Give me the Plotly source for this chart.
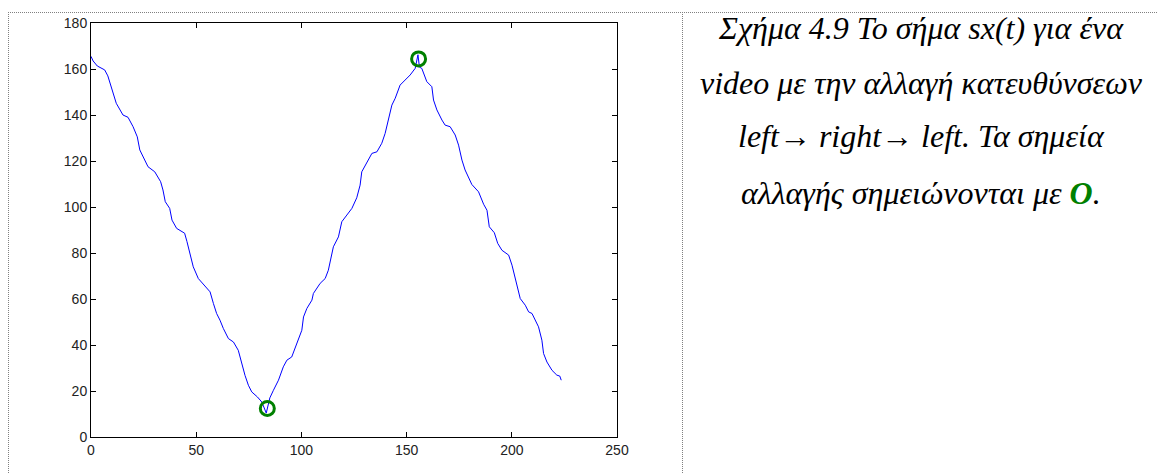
import plotly.graph_objects as go

# ---- data ----
t_values = [0, 1, 3, 6.5, 8, 9.7, 12, 15.2, 17.6, 20, 22, 23.2, 25.5, 27.1, 30.3, 33.1, 34.2, 35.3,
            37.4, 38.5, 40.7, 44.5, 45.6, 47.1, 48.6, 51, 54.2, 56.6, 58.2, 59.7, 61.3, 62.9, 65.3,
            67.7, 70, 71.6, 73.2, 74.8, 76.4, 79.1, 81.2, 83.3,
            85, 86.7, 89.1, 91.4, 93.1, 95.4, 97.8, 100.2, 101, 102.6, 105, 105.7, 108.9, 111.3,
            112.8, 114.4, 115.2, 117.6, 119.2, 121.6, 124, 126.3, 127.9, 128.7, 131.1, 133.5, 135.9,
            138.2, 139.8, 141.4, 143, 144.6, 146.9, 149.3, 151.7, 154.1, 155.4, 156.1,
            157.2, 159.6, 162, 162.8, 164.4, 166.8, 168.3, 170.7, 173.1, 174.7, 176.3, 177.8, 179.4,
            181, 184.2, 186.6, 188.2, 189.3, 191.7, 193.3, 195.3, 198.5, 200.1, 201.6, 203.2, 204,
            206.4, 208, 209.6, 211.1, 212.7, 214.3, 215.1, 216.7, 219.1, 221.4, 222.8, 223.5]
sx_values = [165.5, 163.5, 161.3, 159.6, 157, 152.3, 145.1, 140, 139, 134.9, 130.5, 124.8, 120.4,
             117.5, 115.3, 111, 107.4, 102.3, 99.4, 94.3, 90.7, 88.6, 85, 79.8, 74, 68.9, 65.3, 63.1,
             58, 53.7, 50.8, 47.2, 42.8, 41.3, 37.7, 31.9, 26.8, 22.5, 19.6, 17.4, 15.2, 10.4,
             17, 20.3, 24.7, 30.5, 33.4, 34.8, 40.6, 46.4, 52.2, 55.9, 59.5, 62.4, 66.8, 68.9,
             72.5, 79.8, 82.7, 87, 93.6, 96.5, 99.4, 104, 109.5, 115.3, 119, 123.3, 124,
             127.7, 132, 138.6, 144.3, 147.3, 153, 155.2, 157.4, 160.3, 166.2, 160.8,
             160.3, 154.5, 152.3, 146.5, 142.2, 137.8, 135.6, 134.9, 131.3, 126.9, 120.4, 116.1, 113.1,
             109.8, 106.6, 101.2, 98.6, 91.4, 88.8, 84.2, 81.2, 79.1, 74.7, 68.9, 63.8, 60.2,
             57.3, 54.4, 53.7, 50.8, 47.9, 42.1, 36.3, 32.6, 29, 26.9, 26.5, 24.7]

change_t = [83.8, 155.7]
change_sx = [12.4, 164.4]

x_ticks = [0, 50, 100, 150, 200, 250]
y_ticks = [0, 20, 40, 60, 80, 100, 120, 140, 160, 180]

caption_lines = [
    "Σχήμα 4.9 Το σήμα sx(t) για ένα",
    "video με την αλλαγή κατευθύνσεων",
    "left→ right→ left. Τα σημεία",
    "αλλαγής σημειώνονται με <b><span style='color:#008000'>O</span></b>.",
]

# ---- layout geometry (pixels) ----
W, H = 1158, 473
L, R, T, B = 91, 617, 23, 437
pw, ph = R - L, B - T


def px_x(x):
    return (x - L) / pw


def px_y(y):
    return (B - y) / ph


fig = go.Figure()
fig.add_trace(go.Scatter(x=t_values, y=sx_values, mode="lines",
                         line=dict(color="#0000ff", width=1), hoverinfo="skip"))
fig.add_trace(go.Scatter(x=change_t, y=change_sx, mode="markers",
                         marker=dict(symbol="circle-open", size=14, color="#008000",
                                     line=dict(width=3, color="#008000")),
                         hoverinfo="skip"))

axis_common = dict(showgrid=False, zeroline=False, showline=True, linecolor="black",
                   linewidth=1, mirror="ticks", ticks="inside", ticklen=5, tickcolor="black",
                   tickfont=dict(family="Liberation Sans", size=14, color="#222222"))

fig.update_xaxes(range=[0, 250], tickvals=x_ticks, ticktext=[str(v) for v in x_ticks], **axis_common)
fig.update_yaxes(range=[0, 180], tickvals=y_ticks, ticktext=[str(v) for v in y_ticks], **axis_common)

# dotted frame lines
dot = dict(color="#808080", width=1, dash="1px,1px")
shapes = [
    dict(type="line", xref="paper", yref="paper", x0=px_x(8), x1=px_x(W), y0=px_y(12.5), y1=px_y(12.5), line=dot),
    dict(type="line", xref="paper", yref="paper", x0=px_x(8.5), x1=px_x(8.5), y0=px_y(12), y1=px_y(H), line=dot),
    dict(type="line", xref="paper", yref="paper", x0=px_x(682.5), x1=px_x(682.5), y0=px_y(12), y1=px_y(H), line=dot),
]

annotations = []
line_centers = [28, 83, 136, 193]
for txt, yc in zip(caption_lines, line_centers):
    annotations.append(dict(text="<i>" + txt + "</i>", xref="paper", yref="paper",
                            x=px_x(921), y=px_y(yc), xanchor="center", yanchor="middle",
                            showarrow=False,
                            font=dict(family="Liberation Serif", size=32, color="black")))

fig.update_layout(width=W, height=H, margin=dict(l=L, r=W - R, t=T, b=H - B),
                  paper_bgcolor="white", plot_bgcolor="white", showlegend=False,
                  shapes=shapes, annotations=annotations)

fig.write_html("out.html")
